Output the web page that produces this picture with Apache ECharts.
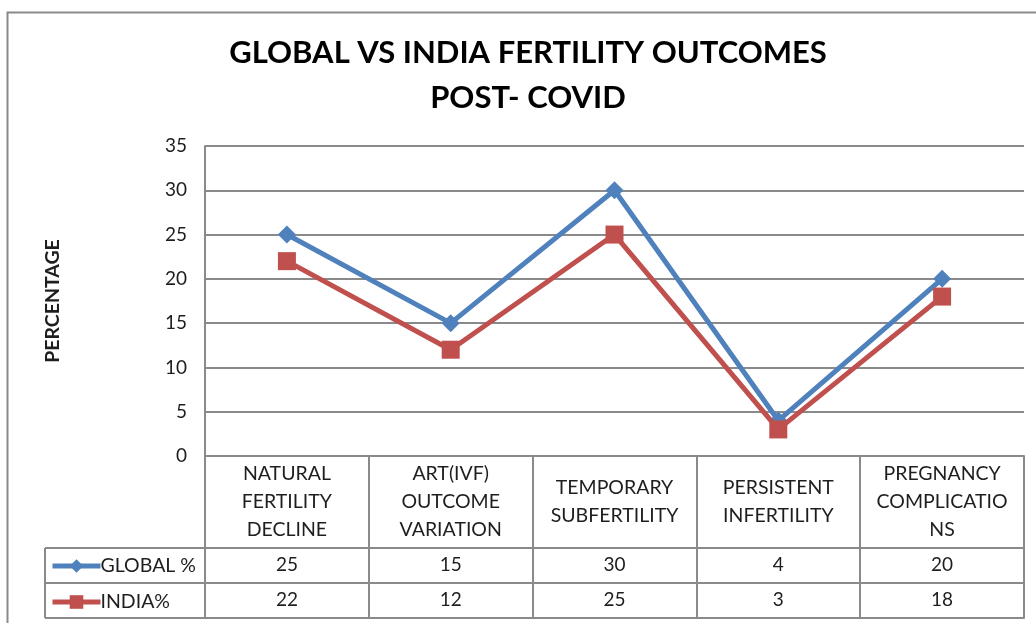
<!DOCTYPE html>
<html>
<head>
<meta charset="utf-8">
<script src="https://cdn.jsdelivr.net/npm/echarts@6/dist/echarts.min.js"></script>
<style>html,body{margin:0;padding:0;background:#fff}#c{width:1036px;height:623px}</style>
</head>
<body>
<div id="c"></div>
<script>
const categories = ["NATURAL\nFERTILITY\nDECLINE", "ART(IVF)\nOUTCOME\nVARIATION", "TEMPORARY\nSUBFERTILITY", "PERSISTENT\nINFERTILITY", "PREGNANCY\nCOMPLICATIO\nNS"];
const globalValues = [25, 15, 30, 4, 20];
const indiaValues = [22, 12, 25, 3, 18];
const seriesNames = ["GLOBAL %", "INDIA%"];
const yTicks = { min: 0, max: 35, interval: 5 };
const titleText = 'GLOBAL VS INDIA FERTILITY OUTCOMES\nPOST- COVID';

const FONT = 'Lato, "Open Sans", sans-serif';
const GRID = '#8a8a8a';
const TXT = '#1e1e1e';

const chart = echarts.init(document.getElementById('c'), null, { renderer: 'canvas' });

function tableAxis(offset, tickLen, labelFmt, margin) {
  return {
    type: 'category', data: categories, position: 'bottom', offset: offset,
    boundaryGap: true,
    axisLine: { show: true, lineStyle: { color: GRID, width: 2 } },
    axisTick: { show: tickLen > 0, interval: 0, length: tickLen, lineStyle: { color: GRID, width: 2 } },
    axisLabel: { show: !!labelFmt, interval: 0, formatter: labelFmt || undefined, margin: margin || 0,
      verticalAlign: 'middle', fontFamily: FONT, fontSize: 19, color: TXT }
  };
}

const option = {
  animation: false,
  backgroundColor: '#fff',
  legend: {
    orient: 'vertical', left: 50, top: 556, padding: 0,
    itemWidth: 48, itemHeight: 17, itemGap: 16, height: 62,
    data: seriesNames,
    lineStyle: { width: 5 },
    textStyle: { fontFamily: FONT, fontSize: 19.5, lineHeight: 17, color: TXT, padding: [0, 0, 0, -5] }
  },
  grid: { left: 205, right: 12, top: 146, bottom: 167, containLabel: false },
  xAxis: [
    Object.assign(tableAxis(0, 92, null, 0), {
      axisLabel: { show: true, interval: 0, margin: 46, verticalAlign: 'middle', lineHeight: 28,
        fontFamily: FONT, fontSize: 19.5, color: TXT }
    }),
    tableAxis(92, 35, (v, i) => String(globalValues[i]), 17),
    tableAxis(127, 35, (v, i) => String(indiaValues[i]), 17),
    tableAxis(162, 0, null, 0)
  ],
  yAxis: {
    type: 'value', min: yTicks.min, max: yTicks.max, interval: yTicks.interval,
    name: 'PERCENTAGE', nameLocation: 'middle', nameGap: 142, nameRotate: 90,
    nameTextStyle: { fontFamily: FONT, fontSize: 19.5, fontWeight: 'bold', color: TXT },
    axisLine: { show: true, lineStyle: { color: GRID, width: 2 } },
    axisTick: { show: false },
    axisLabel: { fontFamily: FONT, fontSize: 19, color: TXT, margin: 18 },
    splitLine: { show: true, lineStyle: { color: GRID, width: 2 } }
  },
  series: [
    { name: seriesNames[0], type: 'line', data: globalValues, xAxisIndex: 0,
      symbol: 'diamond', symbolSize: [18, 18], color: '#4F81BD',
      lineStyle: { width: 5, color: '#4F81BD' }, itemStyle: { color: '#4F81BD' }, z: 3 },
    { name: seriesNames[1], type: 'line', data: indiaValues, xAxisIndex: 0,
      symbol: 'rect', symbolSize: [18, 18], color: '#C0504D',
      lineStyle: { width: 5, color: '#C0504D' }, itemStyle: { color: '#C0504D' }, z: 4 }
  ],
  graphic: [
    { type: 'rect', left: 5, top: 10, shape: { width: 1200, height: 800 }, silent: true,
      style: { fill: 'none', stroke: '#8a8a8a', lineWidth: 2 }, z: -10 },
    { type: 'text', x: 528, y: 30, silent: true,
      style: { text: titleText, fontFamily: FONT, fontSize: 31, fontWeight: 'bold', fill: '#000',
        lineHeight: 45, align: 'center', verticalAlign: 'top' } },
    { type: 'group', silent: true, children: [
      { type: 'line', shape: { x1: 45, y1: 548, x2: 205, y2: 548 }, style: { stroke: GRID, lineWidth: 2 } },
      { type: 'line', shape: { x1: 45, y1: 583, x2: 205, y2: 583 }, style: { stroke: GRID, lineWidth: 2 } },
      { type: 'line', shape: { x1: 45, y1: 618, x2: 205, y2: 618 }, style: { stroke: GRID, lineWidth: 2 } },
      { type: 'line', shape: { x1: 45, y1: 548, x2: 45, y2: 618 }, style: { stroke: GRID, lineWidth: 2 } }
    ] }
  ]
};
chart.setOption(option);
</script>
</body>
</html>
